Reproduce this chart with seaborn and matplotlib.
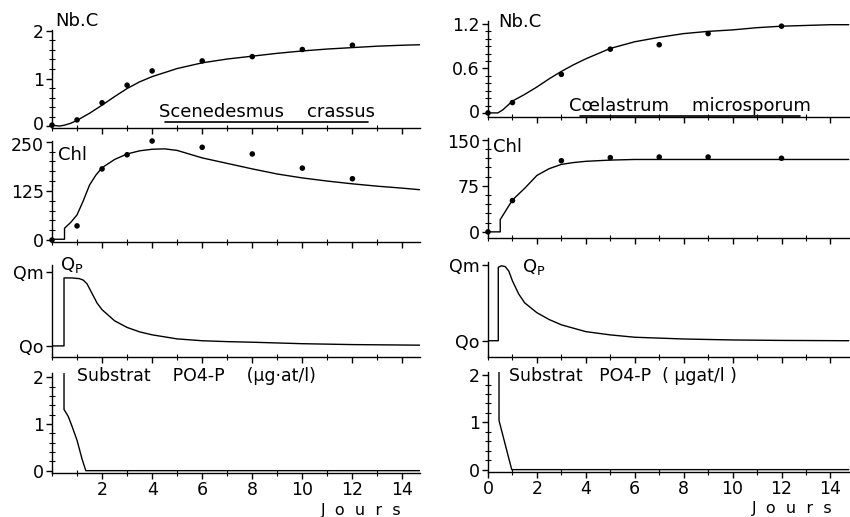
import matplotlib
matplotlib.use("Agg")
import matplotlib.pyplot as plt
from matplotlib.ticker import MultipleLocator, FixedLocator, NullLocator
from matplotlib.lines import Line2D
from matplotlib.transforms import ScaledTranslation
import seaborn as sns

# ---- Scenedesmus crassus (left column) ----
sc_obs_days = [0, 1, 2, 3, 4, 6, 8, 10, 12]
sc_obs_nbc = [0.02, 0.13, 0.49, 0.86, 1.16, 1.37, 1.46, 1.61, 1.70]
sc_obs_chl = [0, 36, 181, 217, 252, 236, 219, 183, 156]

sc_nbc_t = [0, 0.3, 0.5, 0.75, 1, 1.5, 2, 2.5, 3, 3.5, 4, 5, 6, 7, 8, 9, 10, 11, 12, 13, 14, 14.7]
sc_nbc_v = [0.02, 0.0, 0.02, 0.06, 0.12, 0.27, 0.44, 0.62, 0.79, 0.93, 1.04, 1.21, 1.33, 1.41,
            1.47, 1.53, 1.58, 1.62, 1.65, 1.68, 1.70, 1.71]

sc_chl_t = [0, 0.5, 0.5, 0.75, 1, 1.25, 1.5, 1.75, 2, 2.5, 3, 3.5, 4, 4.5, 5, 6, 7, 8, 9, 10,
            11, 12, 13, 14, 14.7]
sc_chl_v = [2, 2, 30, 45, 64, 100, 140, 165, 184, 205, 219, 227, 231, 232, 228, 209, 195, 181,
            168, 158, 150, 143, 137, 132, 128]

sc_q_t = [0, 0.48, 0.48, 0.8, 1.1, 1.25, 1.4, 1.6, 1.8, 2, 2.5, 3, 3.5, 4, 5, 6, 7, 8, 10, 12, 14.7]
sc_q_v = [0, 0, 0.92, 0.92, 0.91, 0.89, 0.84, 0.71, 0.58, 0.49, 0.34, 0.25, 0.19, 0.15, 0.095,
          0.07, 0.058, 0.05, 0.03, 0.018, 0.01]

sc_s_t = [0.48, 0.48, 0.65, 0.8, 1.0, 1.2, 1.35, 14.7]
sc_s_v = [2.08, 1.31, 1.16, 0.95, 0.65, 0.25, 0.0, 0.0]

# ---- Coelastrum microsporum (right column) ----
cm_obs_days = [0, 1, 3, 5, 7, 9, 12]
cm_obs_nbc = [0.0, 0.14, 0.52, 0.86, 0.92, 1.07, 1.17]
cm_obs_chl = [0, 51, 116, 121, 122, 122, 120]

cm_nbc_t = [0, 0.4, 0.6, 1, 1.5, 2, 2.5, 3, 3.5, 4, 5, 6, 7, 8, 9, 10, 11, 12, 13, 14, 14.75]
cm_nbc_v = [0.0, 0.0, 0.04, 0.16, 0.25, 0.35, 0.46, 0.56, 0.65, 0.73, 0.87, 0.96, 1.02, 1.07,
            1.10, 1.12, 1.15, 1.17, 1.18, 1.19, 1.19]

cm_chl_t = [0, 0.5, 0.5, 0.75, 1, 1.5, 2, 2.5, 3, 3.5, 4, 5, 6, 7, 8, 10, 12, 14.75]
cm_chl_v = [0, 0, 20, 36, 52, 71, 92, 103, 110, 113, 115, 117, 118, 118, 118, 118, 118, 118]

cm_q_t = [0, 0.42, 0.42, 0.55, 0.7, 0.85, 1, 1.25, 1.5, 2, 2.5, 3, 4, 5, 6, 8, 10, 12, 14.75]
cm_q_v = [0, 0, 0.97, 0.99, 0.98, 0.92, 0.79, 0.62, 0.5, 0.37, 0.28, 0.21, 0.12, 0.077, 0.046,
          0.023, 0.01, 0.004, 0.0]

cm_s_t = [0.45, 0.45, 0.97, 14.75]
cm_s_v = [2.08, 1.04, 0.0, 0.0]

sns.set_style("ticks")
plt.rcParams["font.family"] = ["DejaVu Sans"]
plt.rcParams["text.color"] = "black"
plt.rcParams["xtick.color"] = "black"
plt.rcParams["ytick.color"] = "black"

W, H = 850, 517
fig = plt.figure(figsize=(8.5, 5.17), dpi=100)


def px(x, y):
    return x / W, 1 - y / H


def panel(x0, y0, x1, y1, xmax, ylim, yticks, ylabels, yminor, bottom=False, xzero=False):
    ax = fig.add_axes([x0 / W, 1 - y1 / H, (x1 - x0) / W, (y1 - y0) / H])
    sns.despine(ax=ax)
    ax.set_facecolor("none")
    for s in ["left", "bottom"]:
        ax.spines[s].set_linewidth(1.0)
        ax.spines[s].set_color("black")
    ax.set_xlim(0, xmax)
    ax.set_ylim(*ylim)
    ax.yaxis.set_major_locator(FixedLocator(yticks))
    ax.set_yticklabels(ylabels)
    if yminor:
        ax.yaxis.set_minor_locator(MultipleLocator(yminor))
    else:
        ax.yaxis.set_minor_locator(NullLocator())
    xt = list(range(0 if xzero else 2, 15, 2))
    ax.xaxis.set_major_locator(FixedLocator(xt))
    ax.xaxis.set_minor_locator(MultipleLocator(1))
    ax.tick_params(which="major", direction="out", length=4, width=1, labelsize=12.5, pad=2,
                   colors="black")
    ax.tick_params(which="minor", direction="inout", length=4, width=0.8, colors="black")
    ax.tick_params(axis="x", labelbottom=bottom)
    ax.set_xlabel("")
    ax.set_ylabel("")
    return ax


def curve(ax, t, v):
    sns.lineplot(x=t, y=v, ax=ax, color="black", linewidth=1.0, estimator=None, sort=False)


def dots(ax, t, v):
    sns.scatterplot(x=t, y=v, ax=ax, color="black", s=16, edgecolor="none", clip_on=False, zorder=5)


def nudge(ax, idx, dy_px):
    lab = ax.get_yticklabels()[idx]
    lab.set_transform(lab.get_transform() + ScaledTranslation(0, dy_px / 100, fig.dpi_scale_trans))


# left column
a1 = panel(52, 30, 420, 128, 14.7, (-0.04, 2.02), [0, 1, 2], ["0", "1", "2"], 0.2)
curve(a1, sc_nbc_t, sc_nbc_v)
dots(a1, sc_obs_days, sc_obs_nbc)
nudge(a1, 0, 3)

a2 = panel(52, 141, 420, 242, 14.7, (-5, 252), [0, 125, 250], ["0", "125", "250"], 25)
curve(a2, sc_chl_t, sc_chl_v)
dots(a2, sc_obs_days, sc_obs_chl)
nudge(a2, 2, -2)

a3 = panel(52, 265, 420, 357, 14.7, (-0.15, 1.095), [0, 1], ["Qo", "Qm"], None)
curve(a3, sc_q_t, sc_q_v)

a4 = panel(52, 373, 420, 473, 14.7, (-0.05, 2.09), [0, 1, 2], ["0", "1", "2"], 0.2, bottom=True)
curve(a4, sc_s_t, sc_s_v)

# right column
b1 = panel(488, 21, 850, 117, 14.8, (-0.055, 1.24), [0, 0.6, 1.2], ["0", "0.6", "1.2"], 0.1)
curve(b1, cm_nbc_t, cm_nbc_v)
dots(b1, cm_obs_days, cm_obs_nbc)
nudge(b1, 0, 2)

b2 = panel(488, 138, 850, 238, 14.8, (-10, 153), [0, 75, 150], ["0", "75", "150"], 15)
curve(b2, cm_chl_t, cm_chl_v)
dots(b2, cm_obs_days, cm_obs_chl)
nudge(b2, 2, -1)

b3 = panel(488, 262, 850, 357, 14.8, (-0.215, 1.04), [0, 1], ["Qo", "Qm"], None)
curve(b3, cm_q_t, cm_q_v)

b4 = panel(488, 372, 850, 472, 14.8, (-0.05, 2.065), [0, 1, 2], ["0", "1", "2"], 0.2,
           bottom=True, xzero=True)
curve(b4, cm_s_t, cm_s_v)

# annotations
fs = 13
fig.text(*px(55, 21), "Nb.C", fontsize=fs, va="center", ha="left")
fig.text(*px(498, 22), "Nb.C", fontsize=fs, va="center", ha="left")
fig.text(*px(58, 155), "Chl", fontsize=fs, va="center", ha="left")
fig.text(*px(493, 147), "Chl", fontsize=fs, va="center", ha="left")
fig.text(*px(60, 265), "Q$_{\\mathregular{P}}$", fontsize=fs, va="center", ha="left")
fig.text(*px(522, 267), "Q$_{\\mathregular{P}}$", fontsize=fs, va="center", ha="left")
fig.text(*px(77, 376), "Substrat    PO4-P    (\u00b5g\u00b7at/l)", fontsize=12.5, va="center", ha="left")
fig.text(*px(509, 376), "Substrat   PO4-P  ( \u00b5gat/l )", fontsize=12.5, va="center", ha="left")

fig.text(*px(267, 112), "Scenedesmus    crassus", fontsize=13, va="center", ha="center")
fig.add_artist(Line2D([165 / W, 368 / W], [1 - 122 / H, 1 - 122 / H], color="black", lw=1.2))
fig.text(*px(690, 106), "C\u0153lastrum    microsporum", fontsize=13, va="center", ha="center")
fig.add_artist(Line2D([580 / W, 800 / W], [1 - 116 / H, 1 - 116 / H], color="black", lw=1.2))

fig.text(*px(361, 511), "J  o  u  r  s", fontsize=11.5, va="center", ha="center")
fig.text(*px(792, 508), "J  o  u  r  s", fontsize=11.5, va="center", ha="center")

fig.savefig("out.png", dpi=100)
